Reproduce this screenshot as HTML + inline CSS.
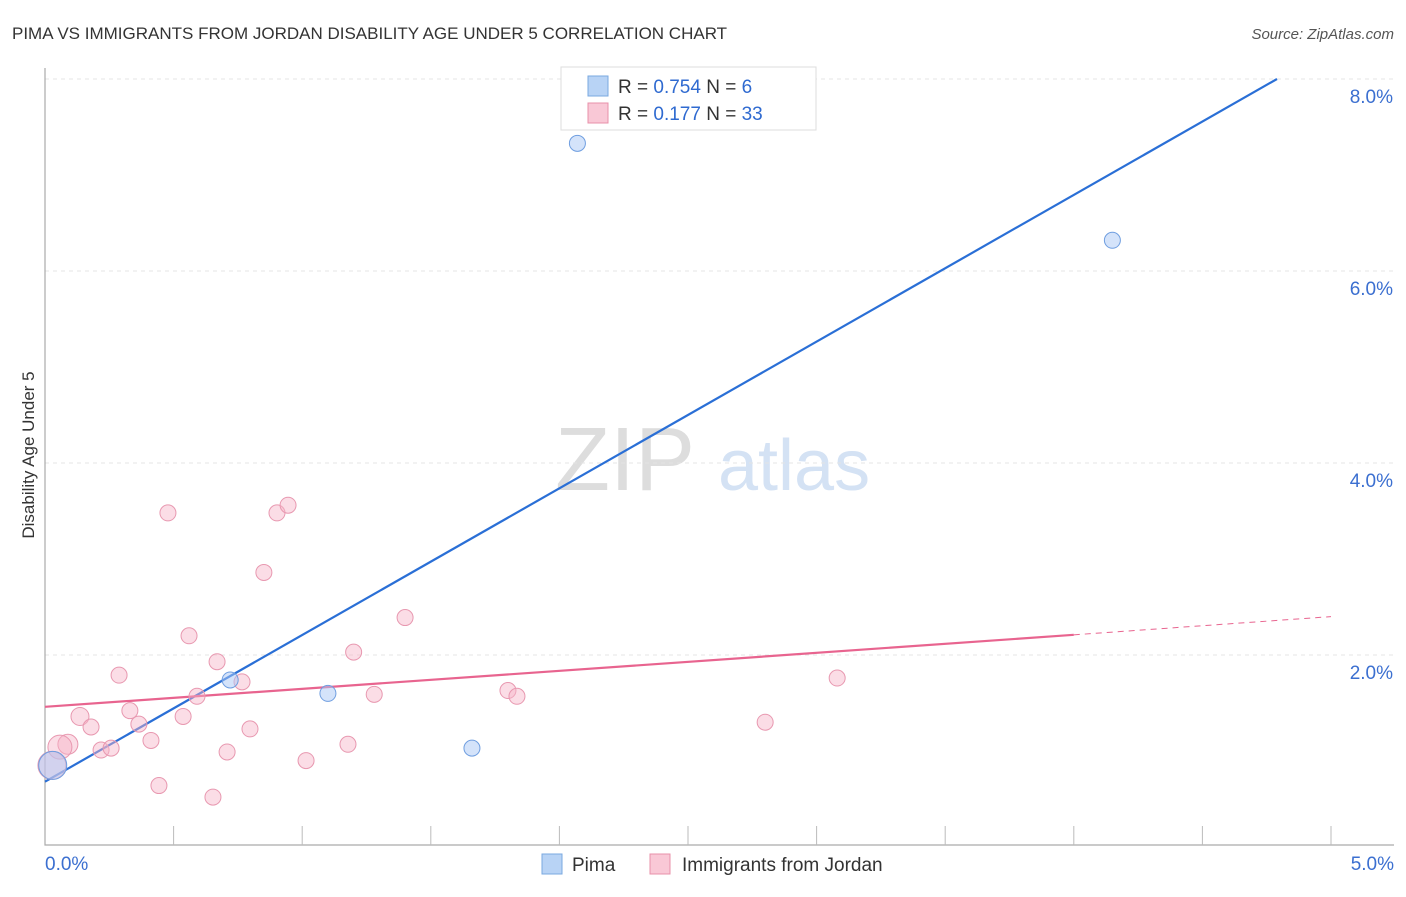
<!DOCTYPE html>
<html><head><meta charset="utf-8"><style>
body{margin:0;background:#fff;font-family:"Liberation Sans",sans-serif}
svg text{font-family:"Liberation Sans",sans-serif}
</style></head><body>
<svg id="c" width="1406" height="892" xmlns="http://www.w3.org/2000/svg">
<text x="12" y="39" font-size="17" fill="#333">PIMA VS IMMIGRANTS FROM JORDAN DISABILITY AGE UNDER 5 CORRELATION CHART</text>
<text x="1394" y="39" font-size="15" fill="#555" font-style="italic" text-anchor="end">Source: ZipAtlas.com</text>
<text x="34" y="455" font-size="17" fill="#333" text-anchor="middle" transform="rotate(-90 34 455)">Disability Age Under 5</text>
<g><text x="555" y="490" font-size="90" fill="#ddd" font-family="Liberation Serif">ZIP</text><text x="718" y="490" font-size="72" fill="#d4e2f4">atlas</text></g>
<g id="grid"></g><g id="axes"></g><g id="lines"></g><g id="pts"></g>
<g>
<rect x="561" y="67" width="255" height="63" fill="#fff" stroke="#ddd"/>
<rect x="588" y="76" width="20" height="20" fill="#b8d3f5" stroke="#7aa8e0"/>
<text x="618" y="93" font-size="19" fill="#333">R = <tspan fill="#2f6ad0">0.754</tspan>   N =   <tspan fill="#2f6ad0">6</tspan></text>
<rect x="588" y="103" width="20" height="20" fill="#f9c8d6" stroke="#e890aa"/>
<text x="618" y="120" font-size="19" fill="#333">R =  <tspan fill="#2f6ad0">0.177</tspan>   N = <tspan fill="#2f6ad0">33</tspan></text>
</g>
<g>
<rect x="542" y="854" width="20" height="20" fill="#b8d3f5" stroke="#7aa8e0"/>
<text x="572" y="871" font-size="19" fill="#333">Pima</text>
<rect x="650" y="854" width="20" height="20" fill="#f9c8d6" stroke="#e890aa"/>
<text x="682" y="871" font-size="19" fill="#333">Immigrants from Jordan</text>
</g>
</svg>
<script>
const xTicks=[0,0.5,1,1.5,2,2.5,3,3.5,4,4.5,5];
const yTicks=[2,4,6,8];
const pimaX=[2.07,4.15,0.72,1.10,1.66,0.03];
const pimaY=[7.33,6.32,1.74,1.60,1.03,0.85];
const pimaR=[8,8,8,8,8,14];
const jorX=[0.478,0.902,0.945,0.851,1.40,0.56,1.20,0.669,0.288,0.766,0.591,1.28,1.80,1.835,3.08,0.33,0.537,0.136,0.179,0.365,0.797,2.80,0.412,1.178,0.218,0.257,0.708,1.015,0.443,0.653,0.089,0.058,0.027];
const jorY=[3.48,3.48,3.56,2.86,2.39,2.20,2.03,1.93,1.79,1.72,1.57,1.59,1.63,1.57,1.76,1.42,1.36,1.36,1.25,1.28,1.23,1.30,1.11,1.07,1.01,1.03,0.99,0.90,0.64,0.52,1.07,1.04,0.85];
const jorR=[8,8,8,8,8,8,8,8,8,8,8,8,8,8,8,8,8,9,8,8,8,8,8,8,8,8,8,8,8,8,10,12,14];
const pimaLine=[0,0.68,4.79,8.0];
const jorLine=[0,1.46,4.0,2.21,5.0,2.40];
const X=v=>45+v*257.2, Y=v=>847-v*96;
const NS='http://www.w3.org/2000/svg';
function mk(p,t,a){const e=document.createElementNS(NS,t);for(const k in a)e.setAttribute(k,a[k]);document.getElementById(p).appendChild(e);return e;}
yTicks.forEach(v=>{
 const l=mk('grid','line',{x1:45,x2:1394,y1:Y(v),y2:Y(v),stroke:'#e4e4e4','stroke-dasharray':'4 4'});
 
 
 const t=mk('grid','text',{x:1393,y:Y(v)+24,'font-size':19,fill:'#3b6fd0','text-anchor':'end'});t.textContent=v.toFixed(1)+'%';
 
 
});
const ax=mk('axes','path',{d:'M45,68 V845 H1394',fill:'none',stroke:'#aaa','stroke-width':1.2});


xTicks.slice(1).forEach(v=>{const l=mk('axes','line',{x1:X(v),x2:X(v),y1:826,y2:845,stroke:'#bbb'});
 
 });
[[0,'start',45],[5,'end',1394]].forEach(([v,a,x])=>{const t=mk('axes','text',{x:x,y:870,'font-size':19,fill:'#3b6fd0','text-anchor':a});t.textContent=v.toFixed(1)+'%';
 
 });
jorX.forEach((x,i)=>{const c=mk('pts','circle',{cx:X(x),cy:Y(jorY[i]),r:jorR[i],fill:'rgba(247,180,200,0.45)',stroke:'#e898b0','stroke-width':1});
 
 });
pimaX.forEach((x,i)=>{const c=mk('pts','circle',{cx:X(x),cy:Y(pimaY[i]),r:pimaR[i],fill:'rgba(170,200,245,0.5)',stroke:'#6f9ee0','stroke-width':1});
 
 });
const pl=mk('lines','line',{x1:X(pimaLine[0]),y1:Y(pimaLine[1]),x2:X(pimaLine[2]),y2:Y(pimaLine[3]),stroke:'#2a6fd6','stroke-width':2.2});


const jl=mk('lines','line',{x1:X(jorLine[0]),y1:Y(jorLine[1]),x2:X(jorLine[2]),y2:Y(jorLine[3]),stroke:'#e8648f','stroke-width':2.2});


const jd=mk('lines','line',{x1:X(jorLine[2]),y1:Y(jorLine[3]),x2:X(jorLine[4]),y2:Y(jorLine[5]),stroke:'#e8648f','stroke-width':1,'stroke-dasharray':'6 5'});


</script>
</body></html>
